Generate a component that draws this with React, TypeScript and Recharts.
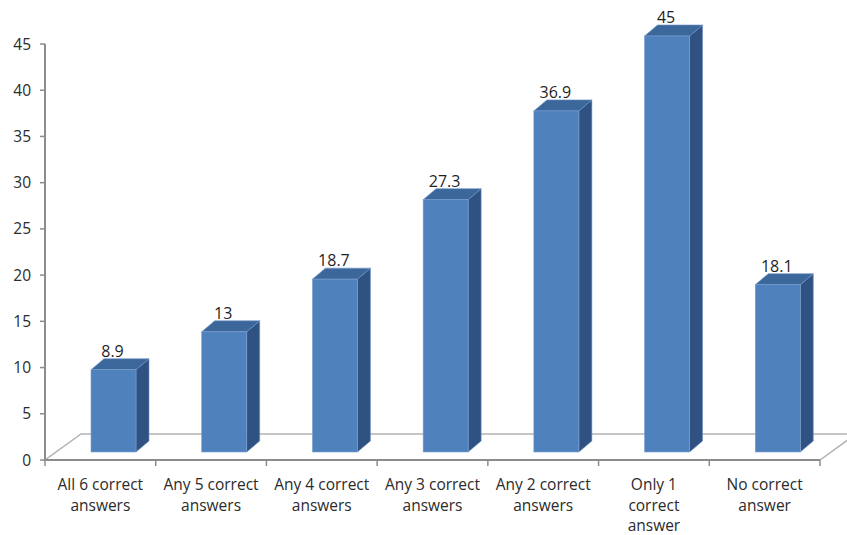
import React from 'react';
import { BarChart, Bar, XAxis, YAxis, LabelList, Customized } from 'recharts';

// Share of respondents (%) by number of correct answers
const categories = [
  'All 6 correct\nanswers',
  'Any 5 correct\nanswers',
  'Any 4 correct\nanswers',
  'Any 3 correct\nanswers',
  'Any 2 correct\nanswers',
  'Only 1\ncorrect\nanswer',
  'No correct\nanswer',
];
const percentages = [8.9, 13, 18.7, 27.3, 36.9, 45, 18.1];
const yTicks = [0, 5, 10, 15, 20, 25, 30, 35, 40, 45];

const data = categories.map((category, i) => ({ category, value: percentages[i] }));

// Chart geometry
const W = 847;
const H = 535;
const MARGIN = { top: 44, right: 27, bottom: 0, left: 0 };
const Y_AXIS_W = 45;
const X_AXIS_H = 75;
const PLOT_LEFT = MARGIN.left + Y_AXIS_W;
const PLOT_RIGHT = W - MARGIN.right;
const PLOT_BOTTOM = H - MARGIN.bottom - X_AXIS_H;
const BAND = (PLOT_RIGHT - PLOT_LEFT) / categories.length;

// Perspective offsets for the pseudo-3D look
const FLOOR_DX = 36;
const FLOOR_DY = 26;
const BAR_SHIFT_X = 13;
const BAR_SHIFT_Y = 8;
const BAR_DX = 13;
const BAR_DY = 11;

const FONT = '"Open Sans", "Liberation Sans", sans-serif';
const AXIS_GRAY = '#8c8c8c';
const TEXT = '#2b2b2b';

const FRONT = '#4f81bd';
const TOP = '#3c679b';
const SIDE = '#2f5283';

const Floor = () => {
  const fl = PLOT_LEFT;
  const fr = PLOT_RIGHT;
  const fb = PLOT_BOTTOM;
  return (
    <g>
      <polygon
        points={`${fl},${fb} ${fr},${fb} ${fr + FLOOR_DX},${fb - FLOOR_DY} ${fl + FLOOR_DX},${fb - FLOOR_DY}`}
        fill="#ffffff"
        stroke="#b3b3b3"
        strokeWidth={1.5}
      />
    </g>
  );
};

const Bar3D = (props: any) => {
  const { x, y, width, height } = props;
  if (width == null || height == null) return null;
  const x0 = x + BAR_SHIFT_X;
  const y0 = y - BAR_SHIFT_Y;
  const w = width;
  const h = height;
  return (
    <g>
      <polygon
        points={`${x0 + w},${y0} ${x0 + w + BAR_DX},${y0 - BAR_DY} ${x0 + w + BAR_DX},${y0 + h - BAR_DY} ${x0 + w},${y0 + h}`}
        fill={SIDE}
        stroke="#6f93c4"
        strokeWidth={0.6}
      />
      <polygon
        points={`${x0},${y0} ${x0 + BAR_DX},${y0 - BAR_DY} ${x0 + w + BAR_DX},${y0 - BAR_DY} ${x0 + w},${y0}`}
        fill={TOP}
        stroke="#6f93c4"
        strokeWidth={0.6}
      />
      <rect x={x0} y={y0} width={w} height={h} fill={FRONT} stroke="#7aa0d0" strokeWidth={0.6} />
    </g>
  );
};

const ValueLabel = (props: any) => {
  const { x, y, width, value } = props;
  return (
    <text
      x={x + BAR_SHIFT_X + width / 2 - 1}
      y={y - BAR_SHIFT_Y - BAR_DY - 2}
      textAnchor="middle"
      fontFamily={FONT}
      fontSize={16}
      fill="#1f1f1f"
    >
      {value}
    </text>
  );
};

const CategoryTick = (props: any) => {
  const { x, payload, index } = props;
  const lines = String(payload.value).split('\n');
  const half = BAND / 2;
  return (
    <g>
      {index === 0 && (
        <line x1={x - half} y1={PLOT_BOTTOM} x2={x - half} y2={PLOT_BOTTOM + 6} stroke={AXIS_GRAY} strokeWidth={1.5} />
      )}
      <line x1={x + half} y1={PLOT_BOTTOM} x2={x + half} y2={PLOT_BOTTOM + 6} stroke={AXIS_GRAY} strokeWidth={1.5} />
      <text x={x} y={PLOT_BOTTOM + 30} textAnchor="middle" fontFamily={FONT} fontSize={15.5} fill={TEXT}>
        {lines.map((line, i) => (
          <tspan key={i} x={x} dy={i === 0 ? 0 : 20.5}>
            {line}
          </tspan>
        ))}
      </text>
    </g>
  );
};

export default function App() {
  return (
    <div style={{ position: 'absolute', left: 0, top: 0, width: W, height: H, background: '#ffffff' }}>
      <BarChart width={W} height={H} data={data} margin={MARGIN} barSize={45}>
        <Customized component={Floor} />
        <XAxis
          dataKey="category"
          interval={0}
          height={X_AXIS_H}
          tick={<CategoryTick />}
          tickLine={false}
          axisLine={{ stroke: AXIS_GRAY, strokeWidth: 2 }}
        />
        <YAxis
          width={Y_AXIS_W}
          domain={[0, 45]}
          ticks={yTicks}
          interval={0}
          tickSize={5}
          tickMargin={9}
          axisLine={{ stroke: AXIS_GRAY, strokeWidth: 2 }}
          tickLine={{ stroke: AXIS_GRAY, strokeWidth: 1.5 }}
          tick={{ fontFamily: FONT, fontSize: 15.5, fill: TEXT }}
        />
        <Bar dataKey="value" shape={<Bar3D />} isAnimationActive={false}>
          <LabelList dataKey="value" content={<ValueLabel />} />
        </Bar>
      </BarChart>
    </div>
  );
}
